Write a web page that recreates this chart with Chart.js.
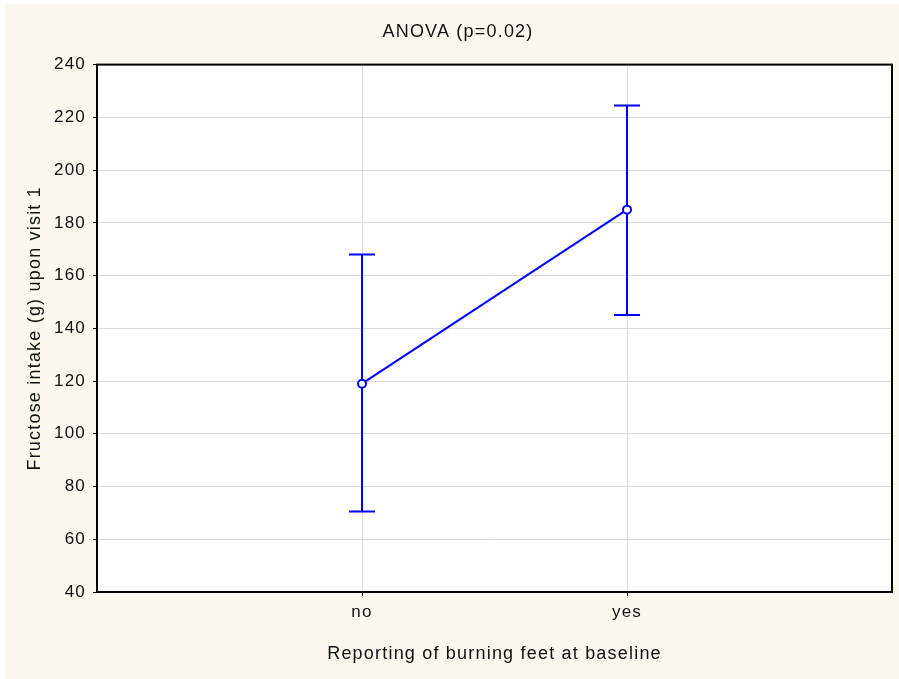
<!DOCTYPE html>
<html>
<head>
<meta charset="utf-8">
<script src="https://cdn.jsdelivr.net/npm/chart.js@4.4.0/dist/chart.umd.min.js"></script>
<style>
  html, body { margin: 0; padding: 0; background: #ffffff; }
  #wrap { width: 899px; height: 679px; }
</style>
</head>
<body>
<div id="wrap"><canvas id="chart" width="899" height="679"></canvas></div>
<script>
// values
const categories = ['no', 'yes'];
const means = [119, 185];
const upperLimits = [168, 224.5];
const lowerLimits = [70.5, 145];
const yTicks = [40, 60, 80, 100, 120, 140, 160, 180, 200, 220, 240];

const blue = '#0000ff';
const family = "'Liberation Sans', Arial, sans-serif";
const tickFont = { family: family, size: 17 };
const titleFont = { family: family, size: 18, weight: 'normal' };

// the original text is a bit spaced out
const spacing = {
  id: 'spacing',
  beforeUpdate(chart) { chart.ctx.letterSpacing = '1.2px'; },
  beforeLayout(chart) { chart.ctx.letterSpacing = '1.2px'; },
  beforeDraw(chart) { chart.ctx.letterSpacing = '1.2px'; }
};

// cream page behind everything
const background = {
  id: 'background',
  beforeDraw(chart) {
    const c = chart.ctx;
    c.save();
    c.fillStyle = '#fdf8ee';
    c.fillRect(5, 4, chart.width - 5, chart.height - 4);
    const a = chart.chartArea;
    c.fillStyle = '#ffffff';
    c.fillRect(a.left, a.top, a.right - a.left, a.bottom - a.top);
    c.restore();
  }
};

// whiskers from lower to upper limit, with caps
const errorBars = {
  id: 'errorBars',
  beforeDatasetsDraw(chart) {
    const c = chart.ctx;
    const xs = chart.scales.x, ys = chart.scales.y;
    c.save();
    c.strokeStyle = blue;
    c.lineWidth = 2;
    categories.forEach((cat, i) => {
      const x = xs.getPixelForValue(i + 1);
      const top = ys.getPixelForValue(upperLimits[i]);
      const bot = ys.getPixelForValue(lowerLimits[i]);
      c.beginPath();
      c.moveTo(x, top); c.lineTo(x, bot);
      c.moveTo(x - 13, top); c.lineTo(x + 13, top);
      c.moveTo(x - 13, bot); c.lineTo(x + 13, bot);
      c.stroke();
    });
    c.restore();
  }
};

// black frame round the plot area
const frame = {
  id: 'frame',
  afterDraw(chart) {
    const a = chart.chartArea;
    const c = chart.ctx;
    c.save();
    c.strokeStyle = '#000000';
    c.lineWidth = 2;
    c.strokeRect(a.left, a.top, a.right - a.left, a.bottom - a.top);
    c.restore();
  }
};

new Chart(document.getElementById('chart'), {
  type: 'line',
  data: {
    datasets: [{
      data: means.map((m, i) => ({ x: i + 1, y: m })),
      borderColor: blue,
      borderWidth: 2,
      pointRadius: 4,
      pointBorderWidth: 2,
      pointBorderColor: blue,
      pointBackgroundColor: '#ffffff',
      fill: false,
      tension: 0
    }]
  },
  options: {
    responsive: false,
    animation: false,
    layout: { padding: { left: 24, right: 7, top: 0, bottom: 0 } },
    plugins: {
      legend: { display: false },
      tooltip: { enabled: false },
      title: {
        display: true,
        text: 'ANOVA (p=0.02)',
        color: '#111111',
        font: titleFont,
        padding: { top: 21, bottom: 22 }
      }
    },
    scales: {
      x: {
        type: 'linear',
        min: 0,
        max: categories.length + 1,
        afterBuildTicks(scale) {
          scale.ticks = categories.map((c, i) => ({ value: i + 1 }));
        },
        afterFit(scale) { scale.height = 87; },
        ticks: {
          color: '#111111',
          font: tickFont,
          padding: 6,
          callback: (v) => categories[v - 1] || ''
        },
        grid: { color: '#dcdcdc', lineWidth: 1, tickLength: 4, tickColor: '#000000' },
        border: { display: false },
        title: {
          display: true,
          text: 'Reporting of burning feet at baseline',
          color: '#111111',
          font: titleFont,
          padding: { top: 0, bottom: 14 }
        }
      },
      y: {
        min: yTicks[0],
        max: yTicks[yTicks.length - 1],
        afterBuildTicks(scale) {
          scale.ticks = yTicks.map(v => ({ value: v }));
        },
        afterFit(scale) { scale.width = 73; },
        ticks: { color: '#111111', font: tickFont, padding: 7 },
        grid: { color: '#dcdcdc', lineWidth: 1, tickLength: 4, tickColor: '#000000' },
        border: { display: false },
        title: {
          display: true,
          text: 'Fructose intake (g) upon visit 1',
          color: '#111111',
          font: titleFont,
          padding: { top: 0, bottom: 0 }
        }
      }
    }
  },
  plugins: [spacing, background, errorBars, frame]
});
</script>
</body>
</html>
